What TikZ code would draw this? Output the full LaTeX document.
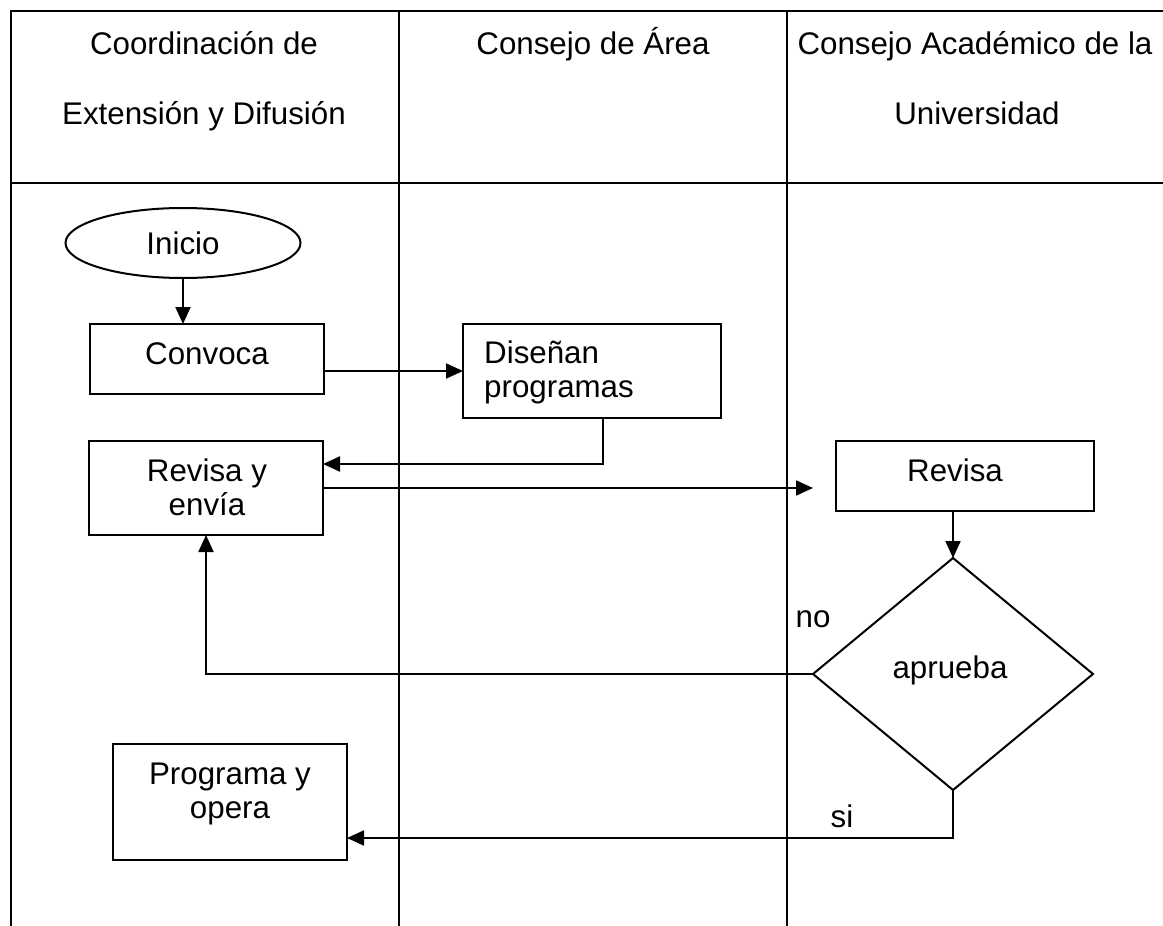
\documentclass[tikz,border=0pt]{standalone}
\usepackage{fontspec}
\setmainfont{Liberation Sans}
\usetikzlibrary{arrows.meta,shapes.geometric}
\begin{document}
\begin{tikzpicture}[x=1pt,y=-1pt,
  tableline/.style={line width=2.4pt,draw=black},
  box/.style={draw=black,line width=2pt,rectangle,inner sep=0pt,outer sep=0pt},
  txt/.style={font=\fontsize{31.3}{35}\selectfont,inner sep=0pt,anchor=base},
  arr/.style={draw=black,line width=2pt,-{Triangle[length=17pt,width=15pt]}}]
\useasboundingbox (0,0) rectangle (1163,926);
\fill[white] (0,0) rectangle (1163,926);
% table
\draw[tableline] (11,11) -- (1163,11);
\draw[tableline] (11,183) -- (1163,183);
\draw[tableline] (11,10) -- (11,926);
\draw[tableline] (399,10) -- (399,926);
\draw[tableline] (787,10) -- (787,926);
% headers
\node[txt] (h1a) at (204,54) {Coordinación de};
\node[txt] (h1b) at (204,124) {Extensión y Difusión};
\node[txt] (h2a) at (593,54) {Consejo de Área};
\node[txt] (h3a) at (975,54) {Consejo Académico de la};
\node[txt] (h3b) at (977,124) {Universidad};
% shapes
\node[draw=black,line width=2pt,ellipse,minimum width=235,minimum height=70,inner sep=0pt,outer sep=0pt] (inicio) at (183,243) {};
\node[box,minimum width=234,minimum height=70] (conv) at (207,359) {};
\node[box,minimum width=258,minimum height=94] (dis) at (592,371) {};
\node[box,minimum width=234,minimum height=94] (rev1) at (206,488) {};
\node[box,minimum width=258,minimum height=70] (rev2) at (965,476) {};
\node[draw=black,line width=2pt,diamond,minimum width=280,minimum height=232,inner sep=0pt,outer sep=0pt] (dia) at (953,674) {};
\node[box,minimum width=234,minimum height=116] (prog) at (230,802) {};
% texts
\node[txt] (tinicio) at (183,254) {Inicio};
\node[txt] (tconv) at (207,364) {Convoca};
\node[txt,anchor=base west] (tdis1) at (484,363) {Diseñan};
\node[txt,anchor=base west] (tdis2) at (484,397) {programas};
\node[txt] (trev1a) at (207,481) {Revisa y};
\node[txt] (trev1b) at (207,515) {envía};
\node[txt] (trev2) at (955,481) {Revisa};
\node[txt] (tdia) at (950,678) {aprueba};
\node[txt] (tno) at (813,627) {no};
\node[txt] (tsi) at (842,827) {si};
\node[txt] (tprog1) at (230,784) {Programa y};
\node[txt] (tprog2) at (230,818) {opera};
% connectors
\draw[arr] (inicio.south) -- (inicio.south |- conv.north);
\draw[arr] (conv.east |- 0,371) -- (dis.west |- 0,371);
\draw[arr] ([xshift=11pt]dis.south) |- ([yshift=24pt]rev1.east);
\draw[arr] (rev1.east) -- ([xshift=-23pt]rev2.west |- rev1.east);
\draw[arr] (rev2.south -| dia.north) -- (dia.north);
\draw[arr] (dia.west) -| (rev1.south);
\draw[arr] (dia.south) |- ([yshift=-36pt]prog.east);
\end{tikzpicture}
\end{document}
